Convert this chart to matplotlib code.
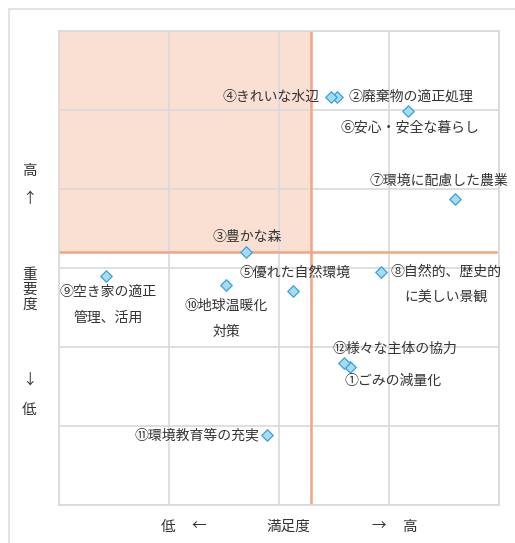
import matplotlib
matplotlib.use("Agg")
import matplotlib.pyplot as plt
from matplotlib.patches import Rectangle

plt.rcParams['font.family'] = ['Noto Sans CJK JP', 'DejaVu Sans']

# ---- data ----
labels = ["①ごみの減量化", "②廃棄物の適正処理", "③豊かな森", "④きれいな水辺",
          "⑤優れた自然環境", "⑥安心・安全な暮らし", "⑦環境に配慮した農業",
          "⑧自然的、歴史的\nに美しい景観", "⑨空き家の適正\n管理、活用",
          "⑩地球温暖化\n対策", "⑪環境教育等の充実", "⑫様々な主体の協力"]
satisfaction = [2.65, 2.53, 1.70, 2.47, 2.13, 3.17, 3.60, 2.93, 0.43, 1.52, 1.89, 2.59]
importance = [1.74, 5.16, 3.20, 5.16, 2.71, 4.98, 3.87, 2.95, 2.90, 2.78, 0.88, 1.80]
mean_satisfaction = 2.29
mean_importance = 3.20

# label placement (offset in pixels, alignment)
label_layout = [
    (43, -13, 'center'), (11, 0, 'left'), (1, 15, 'center'), (-11, 0, 'right'),
    (2, 18, 'center'), (2, -16, 'center'), (-16, 18, 'center'),
    (65, -12.6, 'center'), (1.5, -29, 'center'), (0, -34, 'center'),
    (-8, 0, 'right'), (51, 13.7, 'center'),
]

W, H = 515, 543
fig = plt.figure(figsize=(W / 100, H / 100), dpi=100)
ax = fig.add_axes([59 / W, (H - 505) / H, 440 / W, (505 - 30.7) / H])

ax.set_xlim(0, 4)
ax.set_ylim(0, 6)
ax.set_xticks(range(0, 5))
ax.set_yticks(range(0, 7))
ax.tick_params(length=0, labelbottom=False, labelleft=False)
ax.grid(True, color='#d9d9d9', lw=1.2, zorder=1)
ax.set_axisbelow(True)
for s in ax.spines.values():
    s.set_color('#d9d9d9')
    s.set_linewidth(1.2)

# shaded quadrant
ax.add_patch(Rectangle((0, mean_importance), mean_satisfaction, 6 - mean_importance,
                       facecolor='#fae0d2', edgecolor='none', zorder=0.5))
ax.axvline(mean_satisfaction, color='#f4a383', lw=1.8, zorder=2)
ax.axhline(mean_importance, xmax=0.993, color='#f4a383', lw=1.8, zorder=2)

ax.scatter(satisfaction, importance, marker='D', s=34, facecolor='#a3dcf5',
           edgecolor='#3e9fd6', linewidth=0.9, zorder=4)

for lab, x, y, (dx, dy, ha) in zip(labels, satisfaction, importance, label_layout):
    ax.annotate(lab, (x, y), xytext=(dx, dy), textcoords='offset pixels',
                ha=ha, va='center', multialignment='center', fontsize=10,
                color='#333333', linespacing=2.1, zorder=5)

# outer frame
fig.patches.append(Rectangle((9 / W, -0.1), 1.2, (H - 9) / H + 0.1, transform=fig.transFigure,
                             fill=False, edgecolor='#e3e3e3', lw=1.5))

tc = '#333333'
# y-axis descriptors
fig.text(29.5 / W, 1 - 171 / H, "高", ha='center', va='center', fontsize=10.5, color=tc)
fig.text(29.5 / W, 1 - 199 / H, "↑", ha='center', va='center', fontsize=10.5, color=tc)
fig.text(29.5 / W, 1 - 290 / H, "重\n要\n度", ha='center', va='center', fontsize=10.5,
         color=tc, linespacing=1.05)
fig.text(29.5 / W, 1 - 380 / H, "↓", ha='center', va='center', fontsize=10.5, color=tc)
fig.text(29.5 / W, 1 - 410 / H, "低", ha='center', va='center', fontsize=10.5, color=tc)

# x-axis descriptors
yb = 1 - 526.5 / H
fig.text(168 / W, yb, "低", ha='center', va='center', fontsize=10.5, color=tc)
fig.text(199 / W, yb, "←", ha='center', va='center', fontsize=10.5, color=tc)
fig.text(288 / W, yb, "満足度", ha='center', va='center', fontsize=10.5, color=tc)
fig.text(379 / W, yb, "→", ha='center', va='center', fontsize=10.5, color=tc)
fig.text(409 / W, yb, "高", ha='center', va='center', fontsize=10.5, color=tc)

fig.savefig("out.png", dpi=100)
